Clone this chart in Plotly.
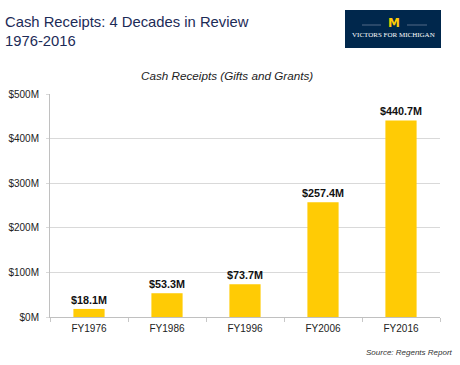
import plotly.graph_objects as go

categories = ["FY1976", "FY1986", "FY1996", "FY2006", "FY2016"]
values = [18.1, 53.3, 73.7, 257.4, 440.7]
labels = ["$18.1M", "$53.3M", "$73.7M", "$257.4M", "$440.7M"]
tick_vals = [0, 100, 200, 300, 400, 500]
tick_text = ["$0M", "$100M", "$200M", "$300M", "$400M", "$500M"]

fig = go.Figure()
fig.add_trace(go.Bar(
    x=categories, y=values, text=labels, textposition="outside",
    constraintext="none",
    textfont=dict(family="Liberation Sans, Arial", size=10.8, color="#111111", weight="bold"),
    marker=dict(color="#FFCB05", line=dict(width=0)),
    width=0.4, cliponaxis=False,
))

fig.update_layout(
    width=460, height=365,
    margin=dict(l=50, r=20, t=94, b=48, autoexpand=False),
    paper_bgcolor="white", plot_bgcolor="white",
    showlegend=False,
    font=dict(family="Liberation Sans, Arial", size=10, color="#222222"),
    xaxis=dict(type="category", tickson="boundaries", ticks="outside", ticklen=4,
               tickcolor="#c8c8c8", showline=True, linecolor="#c0c0c0", automargin=False,
               ticklabelstandoff=2,
               tickfont=dict(size=10, color="#222222"), showgrid=False),
    yaxis=dict(range=[0, 500], tickvals=tick_vals, ticktext=tick_text, automargin=False,
               showgrid=True, gridcolor="#d9d9d9", gridwidth=1,
               ticks="outside", ticklen=3, tickcolor="#d9d9d9", ticklabelstandoff=5,
               showline=True, linecolor="#c0c0c0", zeroline=False,
               tickfont=dict(size=10, color="#222222")),
)

# Header titles
fig.add_annotation(text="Cash Receipts: 4 Decades in Review<br>1976-2016",
                   xref="paper", yref="paper", x=-47/390, y=1 + (94 - 12)/223,
                   xanchor="left", yanchor="top", align="left", showarrow=False,
                   font=dict(family="Liberation Sans, Arial", size=14.8, color="#1c2b57"))
fig.add_annotation(text="<i>Cash Receipts (Gifts and Grants)</i>",
                   xref="paper", yref="paper", x=(227-50)/390, y=1 + (94 - 75)/223,
                   xanchor="center", yanchor="middle", showarrow=False,
                   font=dict(family="Liberation Sans, Arial", size=11.7, color="#222222"))
fig.add_annotation(text="<i>Source: Regents Report</i>",
                   xref="paper", yref="paper", x=(455-50)/390, y=-(352-317)/223,
                   xanchor="right", yanchor="middle", showarrow=False,
                   font=dict(family="Liberation Sans, Arial", size=8, color="#333333"))

# Logo box
fig.add_shape(type="rect", xref="paper", yref="paper",
              x0=(345-50)/390, x1=(441-50)/390, y0=1 + (94-48)/223, y1=1 + (94-10)/223,
              fillcolor="#00274C", line=dict(width=0), layer="above")
fig.add_annotation(text="<b>M</b>", xref="paper", yref="paper",
                   x=(394-50)/390, y=1 + (94-23)/223, xanchor="center", yanchor="middle",
                   showarrow=False, font=dict(family="DejaVu Sans", size=12, color="#FFCB05"))
for xa, xb in [(362, 381), (407, 427)]:
    fig.add_shape(type="line", xref="paper", yref="paper",
                  x0=(xa-50)/390, x1=(xb-50)/390, y0=1 + (94-25)/223, y1=1 + (94-25)/223,
                  line=dict(color="#8a98b0", width=0.6))
fig.add_annotation(text="VICTORS FOR MICHIGAN", xref="paper", yref="paper",
                   x=(393-50)/390, y=1 + (94-35)/223, xanchor="center", yanchor="middle",
                   showarrow=False, font=dict(family="Liberation Serif", size=7, color="white"))

fig.write_html("out.html", config={"displayModeBar": False},
               post_script="document.body.style.margin='0';")
